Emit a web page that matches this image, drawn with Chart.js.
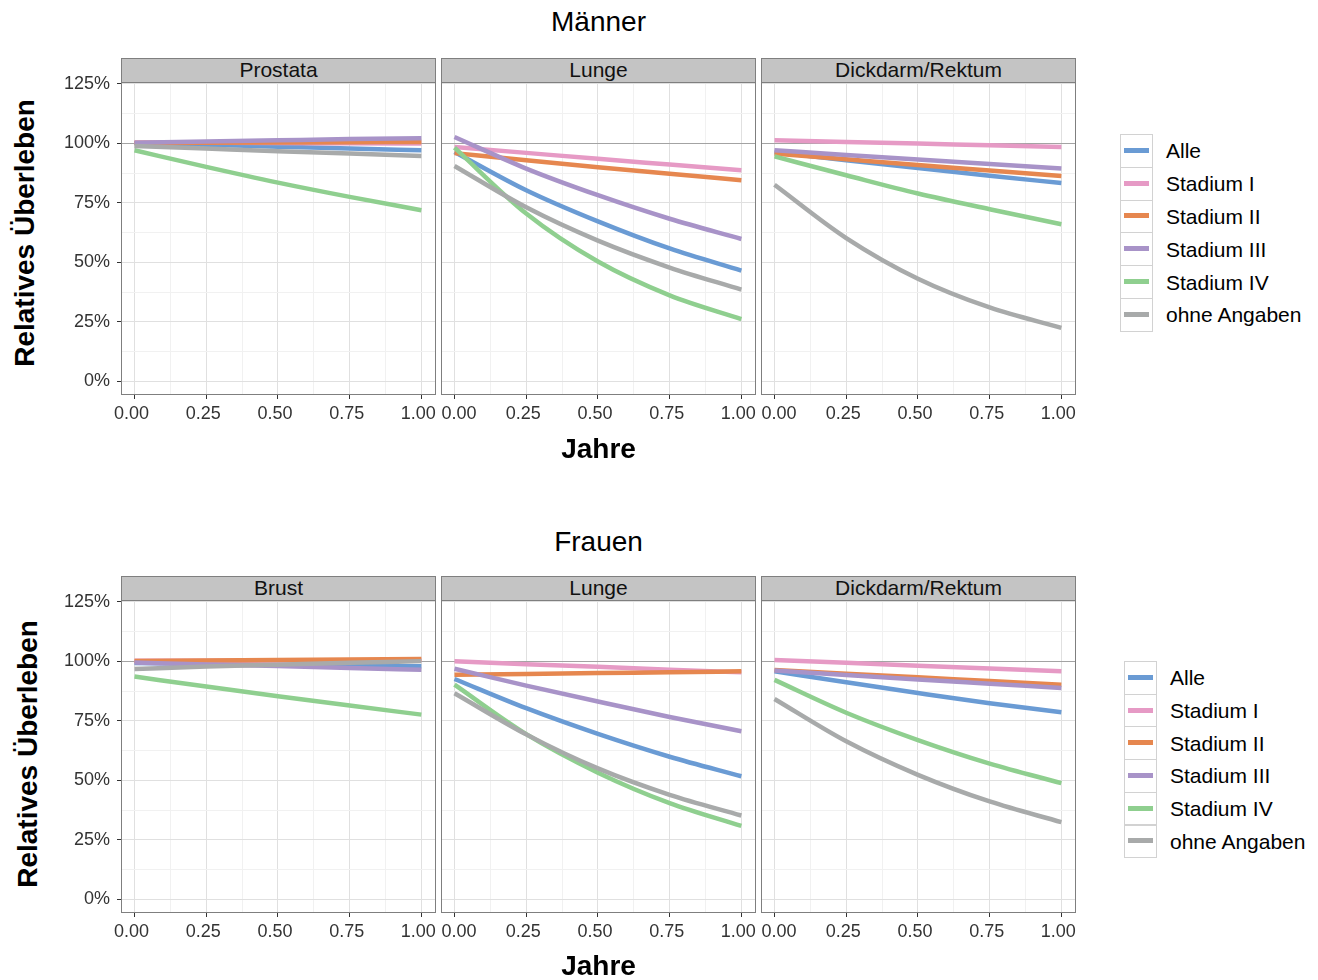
<!DOCTYPE html>
<html lang="de">
<head>
<meta charset="utf-8">
<title>Relatives Überleben</title>
<script src="https://cdn.jsdelivr.net/npm/chart.js@4/dist/chart.umd.min.js"></script>
<style>
    html, body { margin: 0; padding: 0; background: #fff; }
    #plot {
        position: relative;
        width: 1318px;
        height: 980px;
        overflow: hidden;
        font-family: "Liberation Sans", Arial, sans-serif;
        color: #000;
    }
    #plot canvas { position: absolute; }
    .titel, .xtitel {
        position: absolute;
        left: 121px;
        width: 955px;
        text-align: center;
        white-space: nowrap;
        transform: translateY(-50%);
    }
    .titel { font-size: 28px; }
    .xtitel { font-size: 28px; font-weight: bold; }
    .ytitel {
        position: absolute;
        font-size: 28px;
        font-weight: bold;
        white-space: nowrap;
        transform: translate(-50%, -50%) rotate(-90deg);
    }
    .strip {
        position: absolute;
        box-sizing: border-box;
        width: 315px;
        height: 25px;
        background: #c4c4c4;
        border: 1px solid #7f7f7f;
        font-size: 21px;
        line-height: 22px;
        text-align: center;
        color: #111;
    }
    .legende { position: absolute; }
    .legende .key {
        position: absolute;
        left: 0;
        box-sizing: border-box;
        width: 33px;
        border: 1px solid #d2d2d2;
        background: #fff;
    }
    .legende .key span {
        position: absolute;
        left: 3px;
        right: 3px;
        top: 50%;
        height: 5px;
        margin-top: -3px;
    }
    .legende .txt {
        position: absolute;
        font-size: 21px;
        white-space: nowrap;
        transform: translateY(-50%);
    }
</style>
</head>
<body>
<div id="plot"></div>
<script>
(function () {
    "use strict";

    var jahre = [0, 0.25, 0.5, 0.75, 1];
    var stadien = ["Alle", "Stadium I", "Stadium II", "Stadium III", "Stadium IV", "ohne Angaben"];
    var xTicks = [0, 0.25, 0.5, 0.75, 1];
    var xLabels = ["0.00", "0.25", "0.50", "0.75", "1.00"];
    var yTicks = [0, 25, 50, 75, 100, 125];
    var yLabels = ["0%", "25%", "50%", "75%", "100%", "125%"];

    // Männer, one row per Stadium (same order as stadien)
    var maennerProstata = [
        [100.1, 99.4, 98.6, 97.8, 97.1],
        [100.4, 100.3, 100.2, 100.0, 99.9],
        [100.2, 100.3, 100.4, 100.5, 100.6],
        [100.3, 100.8, 101.3, 101.8, 102.2],
        [97.1, 90.1, 83.5, 77.5, 71.9],
        [98.9, 97.8, 96.7, 95.7, 94.7]
    ];
    var maennerLunge = [
        [96.4, 80.3, 67.2, 55.8, 46.5],
        [98.5, 96.0, 93.5, 91.1, 88.7],
        [95.9, 92.9, 90.0, 87.2, 84.5],
        [102.7, 89.4, 78.2, 68.3, 59.8],
        [98.2, 70.5, 50.3, 36.1, 26.1],
        [90.5, 73.1, 59.1, 47.8, 38.5]
    ];
    var maennerDarm = [
        [96.4, 92.9, 89.6, 86.4, 83.3],
        [101.3, 100.6, 99.9, 99.2, 98.5],
        [95.7, 93.3, 90.9, 88.6, 86.3],
        [97.1, 95.1, 93.2, 91.3, 89.4],
        [94.5, 86.6, 78.9, 72.3, 66.0],
        [82.6, 60.2, 43.1, 31.0, 22.4]
    ];

    // Frauen
    var frauenBrust = [
        [99.3, 98.9, 98.6, 98.2, 97.9],
        [100.3, 100.3, 100.4, 100.4, 100.5],
        [100.2, 100.4, 100.6, 100.8, 101.0],
        [99.5, 98.7, 98.0, 97.2, 96.5],
        [93.6, 89.4, 85.3, 81.4, 77.6],
        [96.8, 97.8, 98.6, 99.4, 100.1]
    ];
    var frauenLunge = [
        [92.6, 80.3, 69.5, 59.9, 51.7],
        [100.0, 98.8, 97.7, 96.5, 95.4],
        [94.4, 94.7, 95.1, 95.4, 95.8],
        [96.9, 89.8, 83.1, 76.6, 70.6],
        [90.2, 69.4, 53.2, 40.4, 30.8],
        [86.6, 69.3, 55.0, 43.9, 35.2]
    ];
    var frauenDarm = [
        [95.8, 91.2, 86.7, 82.4, 78.6],
        [100.6, 99.4, 98.2, 97.0, 95.8],
        [96.4, 94.8, 93.3, 91.7, 90.2],
        [96.2, 94.3, 92.4, 90.6, 88.8],
        [92.2, 78.4, 66.9, 57.0, 48.8],
        [84.2, 66.4, 52.3, 41.1, 32.4]
    ];

    var farben = ["#6a9bd4", "#e69ac5", "#e6874f", "#a893c8", "#8fcf8f", "#a8aaaa"];

    var PANEL_W = 315, PANEL_H = 313;
    var AXIS_W = 60, AXIS_H = 40, PAD_TOP = 12, PAD_RIGHT = 30;
    var plot = document.getElementById("plot");

    Chart.defaults.font.family = "'Liberation Sans', Arial, sans-serif";
    Chart.defaults.font.size = 18;
    Chart.defaults.color = "#333";

    function withMinor(major) {
        var out = [];
        for (var i = 0; i < major.length; i++) {
            if (i > 0) out.push((major[i - 1] + major[i]) / 2);
            out.push(major[i]);
        }
        return out;
    }

    function gridColor(major) {
        return function (ctx) {
            var v = ctx.tick ? ctx.tick.value : null;
            if (v === 100 && major === yTicks) return "#a3a3a3";
            return major.indexOf(v) >= 0 ? "#e0e0e0" : "#f1f1f1";
        };
    }

    function tickColor(major) {
        return function (ctx) {
            var v = ctx.tick ? ctx.tick.value : null;
            return major.indexOf(v) >= 0 ? "#333" : "rgba(0,0,0,0)";
        };
    }

    var panelBorder = {
        id: "panelBorder",
        afterDraw: function (chart) {
            var a = chart.chartArea, c = chart.ctx;
            c.save();
            c.strokeStyle = "#7f7f7f";
            c.lineWidth = 1;
            c.strokeRect(a.left + 0.5, a.top + 0.5, a.right - a.left - 1, a.bottom - a.top - 1);
            c.restore();
        }
    };

    function addText(cls, text, css) {
        var el = document.createElement("div");
        el.className = cls;
        el.textContent = text;
        for (var k in css) el.style[k] = css[k];
        plot.appendChild(el);
        return el;
    }

    function createFacet(left, top, name, werte, showY) {
        addText("strip", name, { left: left + "px", top: (top - 24) + "px" });

        var canvas = document.createElement("canvas");
        canvas.width = AXIS_W + PANEL_W + PAD_RIGHT;
        canvas.height = PAD_TOP + PANEL_H + AXIS_H;
        canvas.style.left = (left - AXIS_W) + "px";
        canvas.style.top = (top - PAD_TOP) + "px";
        plot.appendChild(canvas);

        new Chart(canvas.getContext("2d"), {
            type: "line",
            data: {
                datasets: stadien.map(function (label, i) {
                    return {
                        label: label,
                        data: jahre.map(function (x, j) { return { x: x, y: werte[i][j] }; }),
                        borderColor: farben[i],
                        borderWidth: 4.5,
                        borderCapStyle: "butt",
                        pointRadius: 0,
                        fill: false,
                        cubicInterpolationMode: "monotone",
                        order: stadien.length - i
                    };
                })
            },
            options: {
                responsive: false,
                animation: false,
                events: [],
                layout: { padding: { top: PAD_TOP, right: PAD_RIGHT, left: 0, bottom: 0 } },
                plugins: { legend: { display: false }, tooltip: { enabled: false } },
                scales: {
                    x: {
                        type: "linear",
                        min: -0.047,
                        max: 1.051,
                        afterBuildTicks: function (s) {
                            s.ticks = withMinor(xTicks).map(function (v) { return { value: v }; });
                        },
                        afterFit: function (s) {
                            s.height = AXIS_H;
                            s.paddingLeft = 0;
                            s.paddingRight = 0;
                        },
                        border: { display: false },
                        grid: { color: gridColor(xTicks), lineWidth: 1, tickLength: 4, tickColor: tickColor(xTicks) },
                        ticks: {
                            autoSkip: false,
                            maxRotation: 0,
                            padding: 4,
                            labelOffset: -3,
                            callback: function (v) {
                                var i = xTicks.indexOf(v);
                                if (i < 0) return "";
                                // inner panels: first label sits a little to the right
                                return (i === 0 && !showY) ? "   " + xLabels[i] : xLabels[i];
                            }
                        }
                    },
                    y: {
                        type: "linear",
                        min: -5.8,
                        max: 125.8,
                        afterBuildTicks: function (s) {
                            s.ticks = withMinor(yTicks).map(function (v) { return { value: v }; });
                        },
                        afterFit: function (s) {
                            s.width = AXIS_W;
                            s.paddingTop = 0;
                            s.paddingBottom = 0;
                        },
                        border: { display: false },
                        grid: {
                            color: gridColor(yTicks),
                            lineWidth: 1,
                            drawTicks: showY,
                            tickLength: 4,
                            tickColor: tickColor(yTicks)
                        },
                        ticks: {
                            display: showY,
                            autoSkip: false,
                            padding: 7,
                            callback: function (v) {
                                var i = yTicks.indexOf(v);
                                return i >= 0 ? yLabels[i] : "";
                            }
                        }
                    }
                }
            },
            plugins: [panelBorder]
        });
    }

    function createLegend(left, top, rowH, textLeft) {
        var box = document.createElement("div");
        box.className = "legende";
        box.style.left = left + "px";
        box.style.top = top + "px";
        stadien.forEach(function (label, i) {
            var key = document.createElement("div");
            key.className = "key";
            key.style.top = (i * rowH) + "px";
            key.style.height = (rowH + 1) + "px";
            var line = document.createElement("span");
            line.style.background = farben[i];
            key.appendChild(line);
            box.appendChild(key);

            var txt = document.createElement("div");
            txt.className = "txt";
            txt.textContent = label;
            txt.style.left = (textLeft - left) + "px";
            txt.style.top = (i * rowH + rowH / 2 + 1) + "px";
            box.appendChild(txt);
        });
        plot.appendChild(box);
    }

    var panelsX = [121, 441, 761];

    // Männer
    addText("titel", "Männer", { top: "22px" });
    createFacet(panelsX[0], 82, "Prostata", maennerProstata, true);
    createFacet(panelsX[1], 82, "Lunge", maennerLunge, false);
    createFacet(panelsX[2], 82, "Dickdarm/Rektum", maennerDarm, false);
    addText("ytitel", "Relatives Überleben", { left: "25px", top: "233px" });
    addText("xtitel", "Jahre", { top: "449px" });
    createLegend(1120, 134, 32.8, 1166);

    // Frauen
    addText("titel", "Frauen", { top: "542px" });
    createFacet(panelsX[0], 600, "Brust", frauenBrust, true);
    createFacet(panelsX[1], 600, "Lunge", frauenLunge, false);
    createFacet(panelsX[2], 600, "Dickdarm/Rektum", frauenDarm, false);
    addText("ytitel", "Relatives Überleben", { left: "28px", top: "754px" });
    addText("xtitel", "Jahre", { top: "966px" });
    createLegend(1124, 661, 32.7, 1170);
})();
</script>
</body>
</html>
